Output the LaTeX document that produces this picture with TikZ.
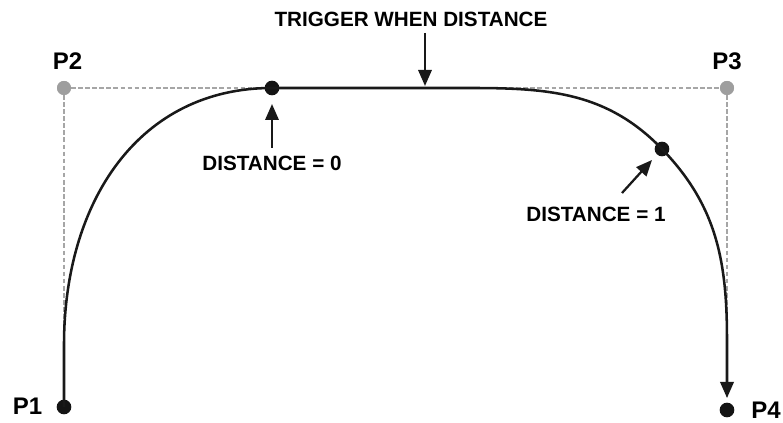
\documentclass[tikz,border=0pt]{standalone}
\usepackage{fontspec}
\setmainfont{Liberation Sans}
\usetikzlibrary{arrows.meta}

\begin{document}
\begin{tikzpicture}[x=0.75pt,y=0.75pt,
    lbl/.style={font=\bfseries\fontsize{15.5}{18}\selectfont, inner sep=0pt},
    plbl/.style={font=\bfseries\fontsize{18}{21}\selectfont, inner sep=0pt},
    ctrl/.style={circle, fill=black!38, minimum size=10.5pt, inner sep=0pt},
    dot/.style={circle, fill=black!92, minimum size=11pt, inner sep=0pt},
    guide/.style={draw=black!35, line width=1.5pt, dash pattern=on 3.5pt off 1.8pt},
    curve/.style={draw=black!90, line width=1.9pt},
    pointer/.style={draw=black!90, line width=1.7pt, -{Triangle[length=12pt,width=10pt]}}]
    \useasboundingbox (0,0) rectangle (783,423);
    % control points and marks on the curve
    \node[ctrl] (p2) at (64,335) {};
    \node[ctrl] (p3) at (727,335) {};
    \coordinate (p4end) at (727,25);
    \draw[guide] (p2.center) -- (64,14);
    \draw[guide] (p2.center) -- (p3.center);
    \draw[guide] (p3.center) -- (p4end);
    \node[dot] (p1) at (64,16) {};
    \node[dot] (p4) at (727,13) {};
    \node[dot] (d0) at (272,335) {};
    \node[dot] (d1) at (662,274) {};
    \node[ctrl] at (p2) {};
    \node[ctrl] at (p3) {};
    % the path itself
    \draw[curve, -{Triangle[length=12pt,width=10pt]}] (p1.center) -- (64,78)
        .. controls (64,223) and (140,335) .. (d0.center)
        -- (470,335) to[out=0,in=134] (d1.center)
        to[out=-46,in=90] (727,83) -- (p4end);
    % labels
    \node[plbl] (l1) at (27.5,17) {P1};
    \node[plbl] (l2) at (67.5,362) {P2};
    \node[plbl] (l3) at (727,362) {P3};
    \node[plbl] (l4) at (766,13) {P4};
    \node[lbl] (trig) at (411,404) {TRIGGER WHEN DISTANCE};
    \node[lbl] (t0) at (272,260) {DISTANCE = 0};
    \node[lbl] (t1) at (596,209) {DISTANCE = 1};
    \coordinate (trigtail) at (425,390);
    \coordinate (trighead) at (425,337);
    \coordinate (t0tail) at (272,275);
    \coordinate (t0head) at (272,319);
    \coordinate (t1tail) at (622,230);
    \coordinate (t1head) at (652,263);
    \draw[pointer] (trigtail) -- (trighead);
    \draw[pointer] (t0tail) -- (t0head);
    \draw[pointer] (t1tail) -- (t1head);
\end{tikzpicture}
\end{document}
